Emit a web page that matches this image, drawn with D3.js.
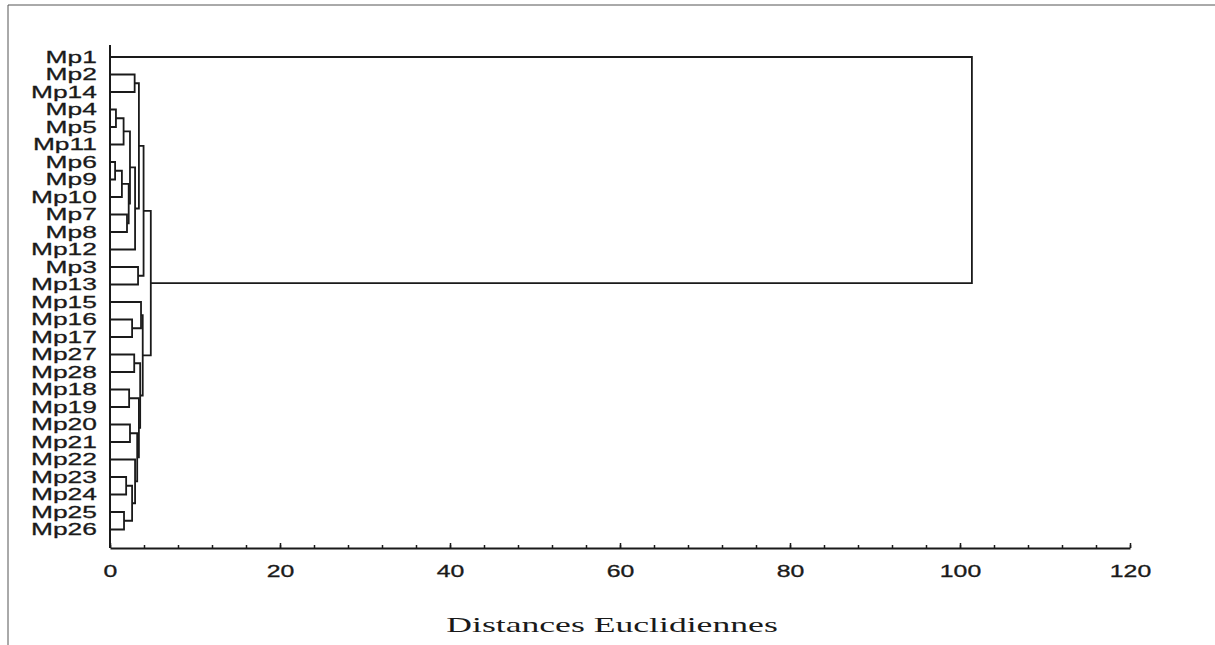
<!DOCTYPE html>
<html lang="fr">
<head>
<meta charset="UTF-8">
<title>Dendrogramme</title>
<script src="https://d3js.org/d3.v7.min.js"></script>
<style>
  body { margin: 0; background: #fff; }
</style>
</head>
<body>
<script>
const width = 1215, height = 645;

// leaves, top to bottom, as in the tree
const leaves = ["Mp1", "Mp2", "Mp14", "Mp4", "Mp5", "Mp11", "Mp6", "Mp9", "Mp10", "Mp7",
                "Mp8", "Mp12", "Mp3", "Mp13", "Mp15", "Mp16", "Mp17", "Mp27", "Mp28", "Mp18",
                "Mp19", "Mp20", "Mp21", "Mp22", "Mp23", "Mp24", "Mp25", "Mp26"];

// merges: [id, child A, child B, linkage distance]
const merges = [
  ["c1", "Mp4", "Mp5", 0.7],
  ["c2", "Mp6", "Mp9", 0.6],
  ["c3", "c1", "Mp11", 1.6],
  ["c4", "c2", "Mp10", 1.4],
  ["c5", "Mp7", "Mp8", 2.0],
  ["c6", "c4", "c5", 2.2],
  ["c7", "c3", "c6", 2.35],
  ["c8", "c7", "Mp12", 2.95],
  ["c9", "Mp2", "Mp14", 2.9],
  ["c10", "c9", "c8", 3.4],
  ["c11", "Mp3", "Mp13", 3.3],
  ["c12", "c10", "c11", 3.95],
  ["c13", "Mp25", "Mp26", 1.65],
  ["c14", "Mp23", "Mp24", 1.9],
  ["c15", "c14", "c13", 2.6],
  ["c16", "Mp22", "c15", 2.95],
  ["c17", "Mp20", "Mp21", 2.35],
  ["c18", "c17", "c16", 3.2],
  ["c19", "Mp18", "Mp19", 2.25],
  ["c20", "c19", "c18", 3.4],
  ["c21", "Mp27", "Mp28", 2.85],
  ["c22", "c21", "c20", 3.55],
  ["c23", "Mp16", "Mp17", 2.6],
  ["c24", "Mp15", "c23", 3.65],
  ["c25", "c24", "c22", 3.85],
  ["c26", "c12", "c25", 4.8],
  ["c27", "Mp1", "c26", 101.4]
];

const majorTicks = [0, 20, 40, 60, 80, 100, 120];
const minorTicks = d3.range(0, 121, 4);
const xTitle = "Distances Euclidiennes";

const stretch = "scale(1.55,1)";   // the source picture is stretched sideways
const ink = "#1a1a1a";

const svg = d3.select("body").append("svg")
    .attr("width", width).attr("height", height);

// frame (top and left edges only, as in the scan)
svg.append("path")
    .attr("d", `M8,${height} V5 H${width}`)
    .attr("fill", "none").attr("stroke", "#555").attr("stroke-width", 1);

const x = d3.scaleLinear().domain([0, 120]).range([110, 1130]);
const y = d3.scalePoint().domain(leaves).range([57, 529.5]);
const axisY = 548;

// node positions
const nodes = new Map(leaves.map(d => [d, { h: 0, y: y(d) }]));
merges.forEach(([id, a, b, h]) => {
  nodes.set(id, { h, y: (nodes.get(a).y + nodes.get(b).y) / 2 });
});

svg.append("g")
    .attr("fill", "none").attr("stroke", ink).attr("stroke-width", 1.8)
  .selectAll("path")
  .data(merges)
  .join("path")
    .attr("d", ([id, a, b, h]) => {
      const na = nodes.get(a), nb = nodes.get(b);
      return `M${x(na.h)},${na.y} H${x(h)} V${nb.y} H${x(nb.h)}`;
    });

// y axis: vertical line plus leaf labels
svg.append("line")
    .attr("x1", x(0)).attr("x2", x(0))
    .attr("y1", y.range()[0] - 12).attr("y2", axisY)
    .attr("stroke", ink).attr("stroke-width", 2);

const labelFont = "'Liberation Sans', Arial, sans-serif";

const gy = svg.append("g")
    .attr("transform", `translate(${x(0)},0)`)
    .call(d3.axisLeft(y).tickSize(0).tickPadding(8.5));
gy.select(".domain").remove();
gy.selectAll("text")
    .attr("transform", stretch)
    .attr("fill", ink)
    .attr("stroke", ink).attr("stroke-width", 0.3)
    .attr("font-family", labelFont)
    .attr("font-size", 17);

// x axis
const gMinor = svg.append("g")
    .attr("transform", `translate(0,${axisY})`)
    .call(d3.axisBottom(x).tickValues(minorTicks).tickSize(-3).tickSizeOuter(0).tickFormat(""));
gMinor.select(".domain").attr("stroke", ink).attr("stroke-width", 2);
gMinor.selectAll(".tick line").attr("stroke", ink).attr("stroke-width", 1.5);

const gMajor = svg.append("g")
    .attr("transform", `translate(0,${axisY})`)
    .call(d3.axisBottom(x).tickValues(majorTicks).tickSize(-5).tickSizeOuter(0).tickPadding(18));
gMajor.select(".domain").remove();
gMajor.selectAll(".tick line").attr("stroke", ink).attr("stroke-width", 1.5);
gMajor.selectAll("text")
    .attr("transform", stretch)
    .attr("fill", ink)
    .attr("stroke", ink).attr("stroke-width", 0.3)
    .attr("font-family", labelFont)
    .attr("font-size", 16);

// axis title
svg.append("text")
    .attr("transform", `translate(612,632) scale(1.62,1)`)
    .attr("text-anchor", "middle")
    .attr("fill", ink)
    .attr("font-family", "'Liberation Serif', 'Times New Roman', serif")
    .attr("font-size", 22)
    .text(xTitle);
</script>
</body>
</html>
